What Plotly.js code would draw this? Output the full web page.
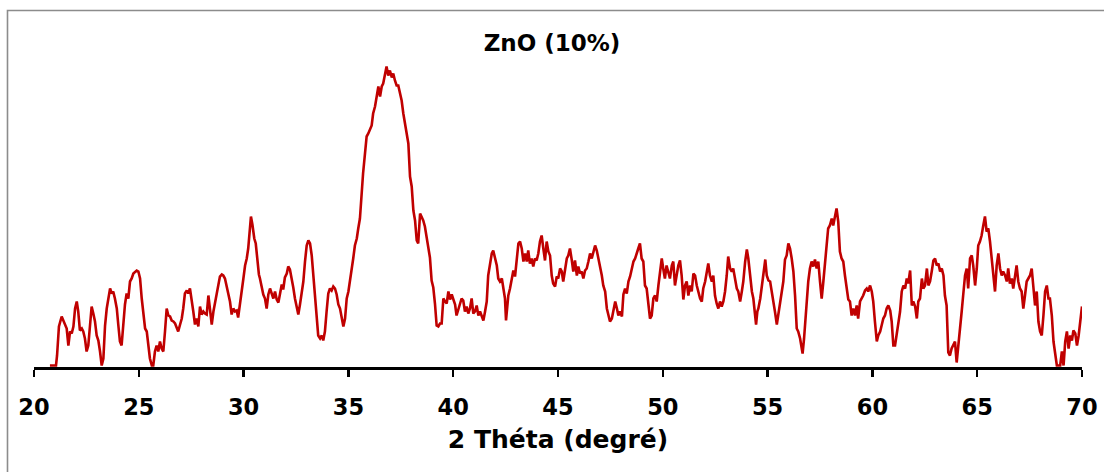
<!DOCTYPE html>
<html>
<head>
<meta charset="utf-8">
<script src="https://cdn.plot.ly/plotly-3.0.1.min.js"></script>
<style>html,body{margin:0;padding:0;background:#fff;}#chart{width:1104px;height:472px;}</style>
</head>
<body>
<div id="chart"></div>
<script>
// 2 Théta (degrees)
const twoTheta = [
20.76,21.05,21.10,21.19,21.32,21.40,21.48,21.56,21.64,21.72,21.80,21.88,21.96,22.04,22.11,22.19,22.28,22.35,22.43,22.51,
22.59,22.67,22.75,22.83,22.91,22.99,23.07,23.15,23.23,23.31,23.39,23.47,23.54,23.63,23.71,23.78,23.86,23.95,24.02,24.10,
24.18,24.26,24.34,24.42,24.50,24.58,24.66,24.74,24.82,24.90,24.98,25.06,25.14,25.21,25.30,25.38,25.45,25.53,25.62,25.69,
25.77,25.85,25.93,26.01,26.09,26.17,26.25,26.33,26.41,26.49,26.57,26.65,26.73,26.81,26.88,26.97,27.05,27.12,27.20,27.29,
27.36,27.44,27.52,27.60,27.68,27.76,27.84,27.92,28.00,28.08,28.16,28.24,28.32,28.40,28.48,28.56,28.64,28.72,28.79,28.87,
28.96,29.03,29.11,29.19,29.27,29.35,29.43,29.51,29.59,29.67,29.74,29.83,29.91,29.99,30.07,30.15,30.22,30.31,30.35,30.42,
30.51,30.58,30.67,30.73,30.78,30.86,30.94,31.02,31.10,31.18,31.26,31.34,31.42,31.50,31.58,31.66,31.74,31.82,31.89,31.97,
32.06,32.13,32.21,32.29,32.37,32.45,32.53,32.61,32.69,32.77,32.85,32.93,33.01,33.09,33.17,33.25,33.33,33.41,33.49,33.56,
33.65,33.73,33.80,33.88,33.96,34.04,34.12,34.20,34.28,34.36,34.44,34.52,34.60,34.68,34.76,34.84,34.92,35.00,35.08,35.16,
35.23,35.31,35.40,35.47,35.55,35.70,35.87,35.95,36.03,36.11,36.18,36.27,36.35,36.43,36.51,36.59,36.66,36.74,36.82,36.90,
36.98,37.07,37.14,37.22,37.30,37.38,37.46,37.54,37.62,37.70,37.78,37.86,37.94,38.02,38.10,38.18,38.26,38.33,38.42,38.50,
38.57,38.65,38.73,38.81,38.89,38.97,39.05,39.13,39.21,39.29,39.37,39.45,39.53,39.61,39.69,39.77,39.85,39.93,40.01,40.09,
40.16,40.24,40.32,40.40,40.48,40.56,40.64,40.72,40.80,40.88,40.96,41.04,41.12,41.20,41.28,41.36,41.44,41.52,41.60,41.67,
41.76,41.84,41.91,42.00,42.08,42.15,42.23,42.32,42.39,42.47,42.52,42.58,42.63,42.71,42.80,42.87,42.95,43.03,43.11,43.19,
43.27,43.35,43.43,43.51,43.58,43.66,43.74,43.82,43.90,43.98,44.06,44.14,44.22,44.30,44.38,44.46,44.54,44.62,44.70,44.77,
44.86,44.94,45.01,45.10,45.18,45.25,45.34,45.42,45.49,45.57,45.66,45.73,45.81,45.90,45.97,46.05,46.13,46.21,46.29,46.37,
46.45,46.53,46.61,46.69,46.77,46.85,46.93,47.00,47.09,47.16,47.25,47.33,47.40,47.48,47.57,47.64,47.73,47.81,47.88,47.96,
48.05,48.12,48.20,48.28,48.36,48.44,48.52,48.60,48.68,48.76,48.83,48.91,48.99,49.07,49.15,49.23,49.31,49.39,49.47,49.55,
49.63,49.71,49.79,49.87,49.95,50.02,50.10,50.18,50.26,50.34,50.43,50.50,50.58,50.66,50.74,50.82,50.90,50.98,51.06,51.14,
51.22,51.30,51.38,51.46,51.54,51.62,51.69,51.78,51.86,51.93,52.02,52.10,52.17,52.25,52.34,52.41,52.49,52.57,52.65,52.73,
52.81,52.89,52.97,53.05,53.12,53.21,53.29,53.36,53.45,53.53,53.60,53.69,53.77,53.84,53.93,54.01,54.08,54.17,54.25,54.32,
54.40,54.45,54.51,54.56,54.65,54.73,54.80,54.89,54.96,55.04,55.12,55.20,55.27,55.35,55.44,55.51,55.59,55.67,55.75,55.83,
55.91,55.99,56.07,56.15,56.23,56.31,56.39,56.46,56.55,56.63,56.67,56.74,56.79,56.87,56.94,57.02,57.10,57.18,57.26,57.34,
57.42,57.50,57.58,57.66,57.74,57.82,57.89,57.97,58.06,58.13,58.21,58.29,58.37,58.45,58.53,58.61,58.69,58.77,58.85,58.93,
59.01,59.09,59.17,59.25,59.32,59.41,59.49,59.56,59.65,59.73,59.80,59.89,59.97,60.04,60.12,60.21,60.28,60.37,60.44,60.52,
60.60,60.68,60.76,60.85,60.92,61.00,61.08,61.16,61.24,61.32,61.40,61.48,61.56,61.64,61.71,61.80,61.88,61.95,62.04,62.12,
62.19,62.27,62.36,62.43,62.51,62.60,62.67,62.75,62.83,62.91,62.99,63.07,63.15,63.23,63.31,63.39,63.46,63.54,63.62,63.70,
63.78,63.86,63.94,64.02,64.10,64.18,64.26,64.33,64.42,64.50,64.57,64.66,64.74,64.81,64.90,64.98,65.05,65.13,65.21,65.29,
65.37,65.45,65.53,65.61,65.69,65.77,65.85,65.93,66.01,66.09,66.17,66.24,66.33,66.41,66.48,66.56,66.65,66.72,66.80,66.88,
66.96,67.04,67.12,67.20,67.28,67.36,67.44,67.52,67.60,67.68,67.76,67.84,67.92,68.00,68.08,68.16,68.24,68.32,68.40,68.47,
68.56,68.64,68.72,68.80,68.88,68.96,69.04,69.12,69.20,69.28,69.36,69.44,69.52,69.59,69.68,69.76,69.84,69.91,70.00
];
// Intensity (a.u.)
const intensity = [
0,0,10,39,49,45,42,37,20,34,32,39,57,64,54,35,37,34,27,14,
20,44,59,52,44,30,25,14,0,7,40,57,67,77,72,74,67,57,41,24,
20,41,61,72,67,84,87,92,94,95,94,87,67,54,37,34,20,7,0,0,
14,20,14,24,17,14,34,57,50,49,45,44,42,37,34,41,47,57,72,75,
72,77,67,54,41,47,39,59,51,54,52,51,70,57,41,54,64,74,82,89,
91,90,87,80,71,64,51,57,54,55,48,64,74,87,100,107,117,137,149,141,
127,122,101,91,87,78,71,67,57,71,77,72,67,74,66,63,74,81,76,88,
92,99,96,88,78,67,57,51,61,74,84,104,120,125,122,110,90,67,44,30,
27,30,25,34,54,72,77,75,79,77,71,61,57,47,39,47,67,74,84,94,
107,120,127,137,147,192,229,232,236,240,252,259,269,279,269,279,282,289,299,290,
295,288,292,285,280,280,272,265,252,242,232,222,189,179,155,145,125,122,152,149,
145,139,129,119,108,85,78,62,40,39,42,42,67,64,62,74,66,71,65,61,
50,56,60,67,65,54,59,52,57,67,52,54,60,50,54,50,45,54,64,90,
102,112,115,108,100,87,84,87,77,67,45,57,70,77,90,95,89,107,122,124,
117,104,112,104,115,102,107,99,107,105,112,124,130,117,105,124,114,110,90,82,
79,89,87,97,94,84,97,107,110,117,105,94,105,90,99,92,94,87,95,97,
104,112,107,114,120,115,107,100,90,80,74,57,50,44,47,54,64,57,50,54,
49,71,77,72,84,89,97,104,107,114,117,122,107,104,80,77,60,47,50,67,
70,64,80,97,107,97,87,100,92,87,100,104,80,90,100,105,90,66,80,84,
70,80,74,92,90,80,74,67,64,77,84,94,102,90,84,90,70,62,57,64,
59,64,74,90,109,97,94,97,87,77,74,64,74,84,104,116,107,87,74,67,
52,41,54,57,67,80,90,106,90,85,84,74,67,54,41,51,64,77,84,106,
110,122,117,107,94,70,37,34,27,17,12,27,44,67,84,97,104,99,106,97,
104,84,67,84,100,117,137,140,147,140,147,157,144,114,107,104,90,80,66,64,
50,57,50,60,47,64,67,70,75,77,74,80,74,64,44,24,30,34,40,47,
50,57,60,55,44,20,20,30,44,54,74,80,77,87,82,95,60,64,59,47,
64,67,87,77,80,97,80,84,94,105,107,100,102,94,97,90,70,60,13,10,
17,20,24,3,20,30,54,70,90,97,77,107,110,100,80,97,120,124,130,140,
149,134,137,124,107,87,74,100,112,97,90,94,90,84,97,82,87,77,90,100,
84,77,74,57,70,84,87,90,97,77,60,74,44,34,30,50,74,80,67,67,
50,24,10,0,0,0,14,0,24,34,17,30,25,35,32,20,30,44,59
];
const chartTitle = 'ZnO (10%)';
const xTitle = '2 Théta (degré)';
const xTicks = [20,25,30,35,40,45,50,55,60,65,70];

const font = 'DejaVu Sans, sans-serif';
const trace = {
  x: twoTheta, y: intensity, type: 'scatter', mode: 'lines',
  line: {color: '#c00000', width: 2.6}, hoverinfo: 'skip'
};
const layout = {
  width: 1104, height: 472,
  margin: {l: 34, r: 22, t: 62, b: 105},
  paper_bgcolor: '#ffffff', plot_bgcolor: '#ffffff',
  showlegend: false,
  title: {text: chartTitle, x: 0.5, xanchor: 'center', y: 1 - 42.5/472, yanchor: 'middle', yref: 'container',
          font: {family: font, size: 23, color: '#000', weight: 'bold'}},
  xaxis: {
    range: [20, 70], tickvals: xTicks, ticktext: xTicks.map(String),
    showline: true, linecolor: '#000', linewidth: 3, mirror: false,
    ticks: 'outside', ticklen: 7, tickwidth: 2.5, tickcolor: '#000',
    showgrid: false, zeroline: false,
    tickfont: {family: font, size: 22.5, color: '#000', weight: 'bold'},
    ticklabelstandoff: 11,
    title: {text: xTitle, standoff: 12, font: {family: font, size: 25, color: '#000', weight: 'bold'}}
  },
  yaxis: {range: [-1.5, 303.5], visible: false, showgrid: false, zeroline: false},
  shapes: [{
    type: 'rect', xref: 'paper', yref: 'paper',
    x0: (7.5 - 34) / 1048, x1: (1112 - 34) / 1048,
    y0: (367 - 480) / 305, y1: (367 - 10.5) / 305,
    line: {color: '#8c8c8c', width: 1.6}, fillcolor: 'rgba(0,0,0,0)', layer: 'below'
  }]
};
Plotly.newPlot('chart', [trace], layout, {staticPlot: true, displayModeBar: false});
</script>
</body>
</html>
